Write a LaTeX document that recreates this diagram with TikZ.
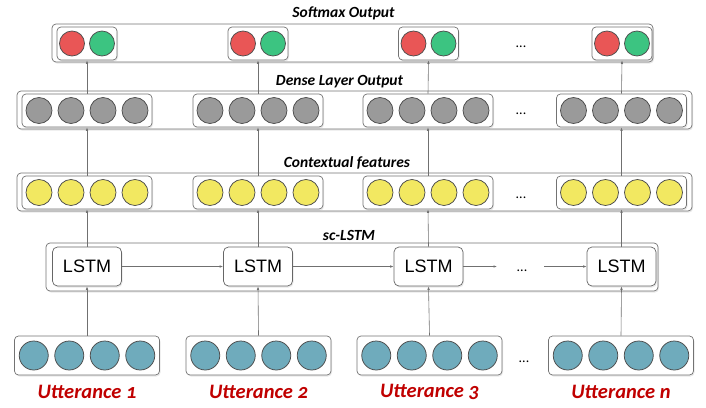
\documentclass[tikz,border=0pt]{standalone}
\usepackage{fontspec}
\setmainfont{Carlito}
\newfontfamily\lstmfont{Liberation Sans}
\newfontfamily\uttfont[Numbers=OldStyle]{Carlito}
\usetikzlibrary{shadows,arrows.meta}
\definecolor{cred}{HTML}{E95656}
\definecolor{cgreen}{HTML}{3CC481}
\definecolor{cgray}{HTML}{9A9A9A}
\definecolor{cyellow}{HTML}{F2E861}
\definecolor{cblue}{HTML}{6FABBC}
\definecolor{cutt}{HTML}{C00000}
\definecolor{cline}{HTML}{707070}
\begin{document}
\begin{tikzpicture}[x=1pt,y=-1pt,
  outerbox/.style={draw=black!55, rounded corners=4pt, line width=0.7pt, fill=white,
    drop shadow={opacity=0.18, shadow xshift=1pt, shadow yshift=-1.5pt}},
  innerbox/.style={draw=black!55, rounded corners=4pt, line width=0.7pt, fill=white,
    drop shadow={opacity=0.18, shadow xshift=1pt, shadow yshift=-1.5pt}},
  ball/.style={circle, draw=black!70, line width=0.75pt, inner sep=0pt, minimum size=#1},
  conn/.style={draw=cline, line width=0.6pt, -{Latex[length=3.5pt,width=2.5pt]}},
  layerlabel/.style={font=\bfseries\itshape\fontsize{15.5}{18}\selectfont},
  dots/.style={font=\fontsize{14}{16}\selectfont, anchor=base},
  lstmbox/.style={draw=black!60, rounded corners=5pt, line width=0.7pt, fill=white,
    minimum width=69pt, minimum height=39pt, font=\lstmfont\fontsize{18}{20}\selectfont,
    drop shadow={opacity=0.18, shadow xshift=1pt, shadow yshift=-1.5pt}},
  uttlabel/.style={text=cutt, font=\uttfont\bfseries\itshape\fontsize{20.5}{24}\selectfont}
  ]
\useasboundingbox (0,0) rectangle (706,407);

% ---------- Softmax ----------
\node[layerlabel] (softlab) at (343.5,13) {Softmax Output};
\node[outerbox, minimum width=601pt, minimum height=38pt] (softout) at (352.5,43) {};
\foreach \i/\x in {1/87,2/258,3/428.5,4/622}{
  \node[innerbox, minimum width=60pt, minimum height=33pt] (s\i) at (\x,43.5) {};
  \node[ball=25pt, fill=cred] (s\i r) at (\x-15,43.5) {};
  \node[ball=25pt, fill=cgreen] (s\i g) at (\x+15,43.5) {};
}
\node[dots] (sdots) at (521,47) {...};

% ---------- Dense ----------
\node[layerlabel] (denselab) at (339.5,82) {Dense Layer Output};
\node[outerbox, minimum width=675pt, minimum height=38pt] (denseout) at (354.5,110) {};
\foreach \i/\x in {1/87,2/258,3/428,4/621.5}{
  \node[innerbox, minimum width=130pt, minimum height=33pt] (d\i) at (\x,110.5) {};
  \foreach \k/\o in {1/-48,2/-16,3/16,4/48}{
    \node[ball=26pt, fill=cgray] (d\i c\k) at (\x+\o,110.5) {};
  }
}
\node[dots] (ddots) at (521,114) {...};

% ---------- Contextual ----------
\node[layerlabel] (ctxlab) at (347,163) {Contextual features};
\node[outerbox, minimum width=675pt, minimum height=38pt] (ctxout) at (354.5,192) {};
\foreach \i/\x in {1/87,2/258,3/428,4/621.5}{
  \node[innerbox, minimum width=130pt, minimum height=33pt] (c\i) at (\x,192.5) {};
  \foreach \k/\o in {1/-48,2/-16,3/16,4/48}{
    \node[ball=26pt, fill=cyellow] (c\i c\k) at (\x+\o,192.5) {};
  }
}
\node[dots] (cdots) at (521,198) {...};

% ---------- sc-LSTM ----------
\node[layerlabel] (lstmlab) at (349,235) {sc-LSTM};
\node[outerbox, minimum width=612pt, minimum height=48pt] (lstmout) at (352,267) {};
\foreach \i/\x in {1/87,2/258,3/428.5,4/621.5}{
  \node[lstmbox] (l\i) at (\x,266.5) {LSTM};
}
\node[dots] (ldots) at (522,271) {...};
\coordinate (lgapa) at (497,266.5);
\coordinate (lgapb) at (544,266.5);

% ---------- Inputs ----------
\foreach \i/\x/\t in {1/87/1,2/258.5/2,3/429.5/3,4/621/n}{
  \node[innerbox, minimum width=145pt, minimum height=39pt] (u\i) at (\x,355.5) {};
  \foreach \k/\o in {1/-53.25,2/-17.75,3/17.75,4/53.25}{
    \node[ball=29pt, fill=cblue] (u\i c\k) at (\x+\o,355.5) {};
  }
  \node[uttlabel] (ut\i) at (\x,392) {Utterance \t};
}
\node[dots] (udots) at (524,362) {...};

% ---------- Connectors ----------
\foreach \i in {1,...,4}{
  \draw[conn] (u\i.north) -- (l\i.south);
  \draw[conn] (l\i.north) -- (c\i.south);
  \draw[conn] (c\i.north) -- (d\i.south);
  \draw[conn] (d\i.north) -- (s\i.south);
}
\draw[conn] (l1.east) -- (l2.west);
\draw[conn] (l2.east) -- (l3.west);
\draw[conn] (l3.east) -- (lgapa);
\draw[conn] (lgapb) -- (l4.west);
\end{tikzpicture}
\end{document}
